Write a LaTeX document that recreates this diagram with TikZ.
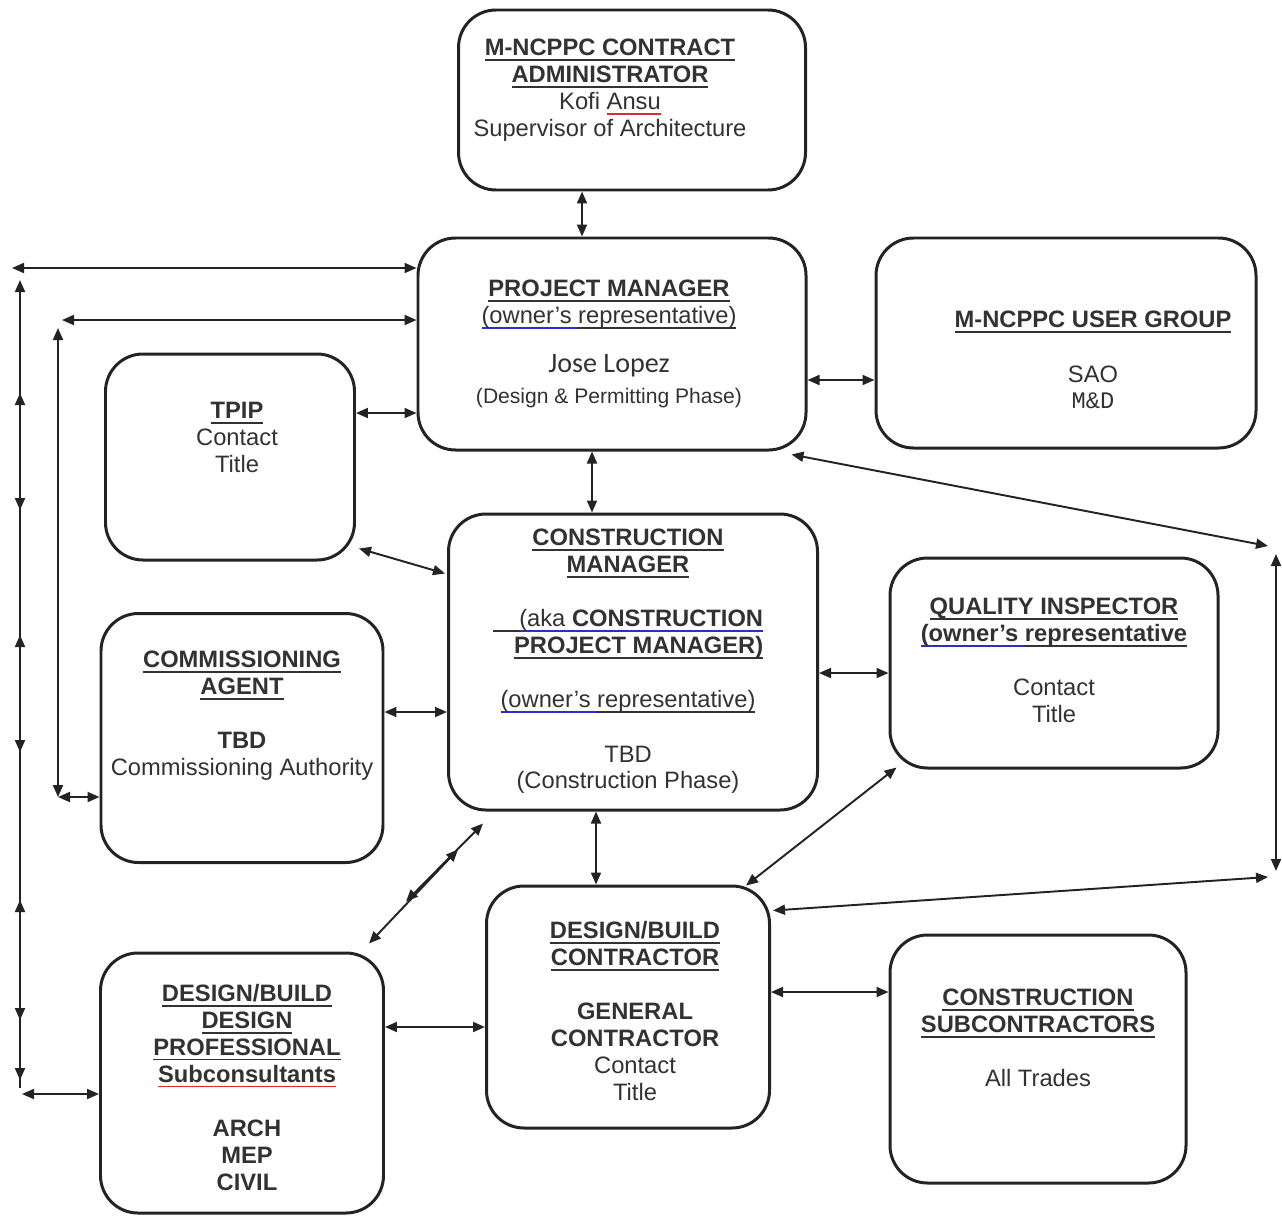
\documentclass[tikz,border=0pt]{standalone}
\usepackage{fontspec}
\setmainfont{Liberation Sans}
\newfontfamily\calibfont{Carlito}
\newfontfamily\courfont{Liberation Mono}
\usepackage{xcolor}
\usetikzlibrary{arrows.meta,calc}
\definecolor{inkgray}{RGB}{35,35,35}
\definecolor{txtgray}{RGB}{50,50,50}
\definecolor{spellblue}{RGB}{45,45,205}
\definecolor{spellred}{RGB}{215,45,45}
\newsavebox{\ulbox}
\newcommand{\ulc}[2]{\sbox{\ulbox}{#2}\rlap{\textcolor{#1}{\rule[-2.9pt]{\wd\ulbox}{0.9pt}}}\usebox{\ulbox}}
\newcommand{\hul}[1]{\ulc{txtgray}{#1}}
\newcommand{\bul}[1]{\ulc{spellblue}{#1}}
\newcommand{\rul}[1]{\ulc{spellred}{#1}}
\tikzset{
  orgbox/.style={rectangle, rounded corners=7.5mm, draw=inkgray, line width=1.7pt, fill=white},
  boxdim/.style 2 args={minimum width=#1*0.2mm, minimum height=#2*0.2mm},
  orgtext/.style={align=center, inner sep=0pt, anchor=north, text=txtgray,
    font=\fontsize{13.5}{15.3}\selectfont},
  biarrow/.style={{Triangle[length=2.4mm,width=2mm]}-{Triangle[length=2.4mm,width=2mm]},
    line width=1.1pt, draw=inkgray, fill=inkgray},
  toarrow/.style={-{Triangle[length=2.4mm,width=2mm]}, line width=1.1pt, draw=inkgray},
  plainline/.style={line width=1.1pt, draw=inkgray}
}

\begin{document}
\begin{tikzpicture}[x=0.2mm, y=-0.2mm]
  \fill[white] (0,0) rectangle (1282,1218);
  \useasboundingbox (0,0) rectangle (1282,1218);

  % boxes
  \node[orgbox,boxdim={347}{180}] (adm) at (632,100) {};
  \node[orgbox,boxdim={388}{212}] (pm) at (612,344) {};
  \node[orgbox,boxdim={380}{210}] (ug) at (1066,343) {};
  \node[orgbox,boxdim={249}{206}] (tpip) at (230,457) {};
  \node[orgbox,boxdim={369}{296}] (cm) at (633,662) {};
  \node[orgbox,boxdim={282}{249}] (ca) at (242,738) {};
  \node[orgbox,boxdim={328}{210}] (qi) at (1054,663) {};
  \node[orgbox,boxdim={283}{242}] (dbc) at (628,1007) {};
  \node[orgbox,boxdim={296}{248}] (sub) at (1038,1059) {};
  \node[orgbox,boxdim={283}{260}] (dbp) at (242,1083) {};

  % texts
  \node[orgtext] (admtxt) at (610,39) {{\bfseries\hul{M-NCPPC CONTRACT}}\\{\bfseries\hul{ADMINISTRATOR}}\\Kofi \rul{Ansu}\\Supervisor of Architecture};
  \node[orgtext] (pmtxt) at (609,280) {{\bfseries\hul{PROJECT MANAGER}}\\\bul{(owner's }\hul{representative)}\\[12.4pt]
    {\calibfont\fontsize{16}{15.3}\selectfont Jose Lopez}\\[2.3pt]{\fontsize{12}{15.3}\selectfont (Design \& Permitting Phase)}};
  \node[orgtext] (ugtxt) at (1093,311) {{\bfseries\hul{M-NCPPC USER GROUP}}\\[15.5pt]SAO\\{\courfont M\&D}};
  \node[orgtext] (tpiptxt) at (237,402) {{\bfseries\hul{TPIP}}\\Contact\\Title};
  \node[orgtext] (cmtxt) at (628,529) {{\bfseries\hul{CONSTRUCTION}}\\{\bfseries\hul{MANAGER}}\\[15.5pt]
    \hul{\phantom{ab}}\bul{(aka \textbf{CONSTRUCTION}}\\\hspace*{0.9em}{\bfseries\hul{PROJECT MANAGER)}}\\[15.5pt]
    \bul{(owner's }\hul{representative)}\\[15.5pt]TBD\\(Construction Phase)};
  \node[orgtext] (catxt) at (242,651) {{\bfseries\hul{COMMISSIONING}}\\{\bfseries\hul{AGENT}}\\[15.5pt]{\bfseries TBD}\\Commissioning Authority};
  \node[orgtext] (qitxt) at (1054,598) {{\bfseries\hul{QUALITY INSPECTOR}}\\{\bfseries\bul{(owner's }\hul{representative}}\\[15.5pt]Contact\\Title};
  \node[orgtext] (dbctxt) at (635,921) {{\bfseries\hul{DESIGN/BUILD}}\\{\bfseries\hul{CONTRACTOR}}\\[15.5pt]
    {\bfseries GENERAL}\\{\bfseries CONTRACTOR}\\Contact\\Title};
  \node[orgtext] (subtxt) at (1038,989) {{\bfseries\hul{CONSTRUCTION}}\\{\bfseries\hul{SUBCONTRACTORS}}\\[15.5pt]All Trades};
  \node[orgtext] (dbptxt) at (247,984) {{\bfseries\hul{DESIGN/BUILD}}\\{\bfseries\hul{DESIGN}}\\{\bfseries\hul{PROFESSIONAL}}\\{\bfseries\rul{Subconsultants}}\\[15.5pt]
    {\bfseries ARCH}\\{\bfseries MEP}\\{\bfseries CIVIL}};

  % outer left bus
  \coordinate (ltop) at (12,268);
  \coordinate (lbot) at (22,1094);
  \draw[biarrow] (ltop) -- (pm.west |- ltop);
  \draw[plainline] (20,282) -- (20,1088);
  \draw[toarrow] (20,393) -- (20,280);
  \foreach \ya/\yb in {393/510, 635/752, 900/1020}
    \draw[biarrow] (20,\ya) -- (20,\yb);
  \draw[toarrow] (20,1020) -- (20,1080);
  \draw[biarrow] (lbot) -- (dbp.west |- lbot);

  % inner left bus
  \coordinate (mtop) at (62,320);
  \coordinate (mcor) at (58,328);
  \coordinate (mbot) at (58,797);
  \draw[biarrow] (mtop) -- (pm.west |- mtop);
  \draw[biarrow] (mcor) -- (mbot);
  \draw[biarrow] (mbot) -- (ca.west |- mbot);

  % right bus
  \coordinate (rtop) at (1268,546);
  \coordinate (rbot) at (1268,877);
  \draw[biarrow] ($(pm.south east)+(-16,3)$) -- (rtop);
  \draw[biarrow] (1276,554) -- (1276,871);
  \draw[biarrow] (rbot) -- ($(dbc.north east)+(2,26)$);

  % links between boxes
  \draw[biarrow] (adm.south -| 582,0) -- (pm.north -| 582,0);
  \draw[biarrow] (pm.south -| 592,0) -- (cm.north -| 592,0);
  \draw[biarrow] (pm.east |- 0,380) -- (ug.west |- 0,380);
  \draw[biarrow] (tpip.east |- 0,413) -- (pm.west |- 0,413);
  \draw[biarrow] ($(tpip.south east)+(3,-13)$) -- ($(cm.north west)+(-2,61)$);
  \draw[biarrow] (ca.east |- 0,712) -- (cm.west |- 0,712);
  \draw[biarrow] (cm.east |- 0,673) -- (qi.west |- 0,673);
  \draw[biarrow] ($(qi.south west)+(8,-2)$) -- ($(dbc.north east)+(-25,1)$);
  \draw[biarrow] (cm.south -| 596,0) -- (dbc.north -| 596,0);
  \draw[biarrow] ($(cm.south west)+(36,12)$) -- ($(dbp.north east)+(21,-50)$);
  \draw[biarrow] ($(cm.south west)+(11,38)$) -- ($(dbp.north east)+(-16,-8)$);
  \draw[biarrow] (dbp.east |- 0,1027) -- (dbc.west |- 0,1027);
  \draw[biarrow] (dbc.east |- 0,992) -- (sub.west |- 0,992);
\end{tikzpicture}
\end{document}
